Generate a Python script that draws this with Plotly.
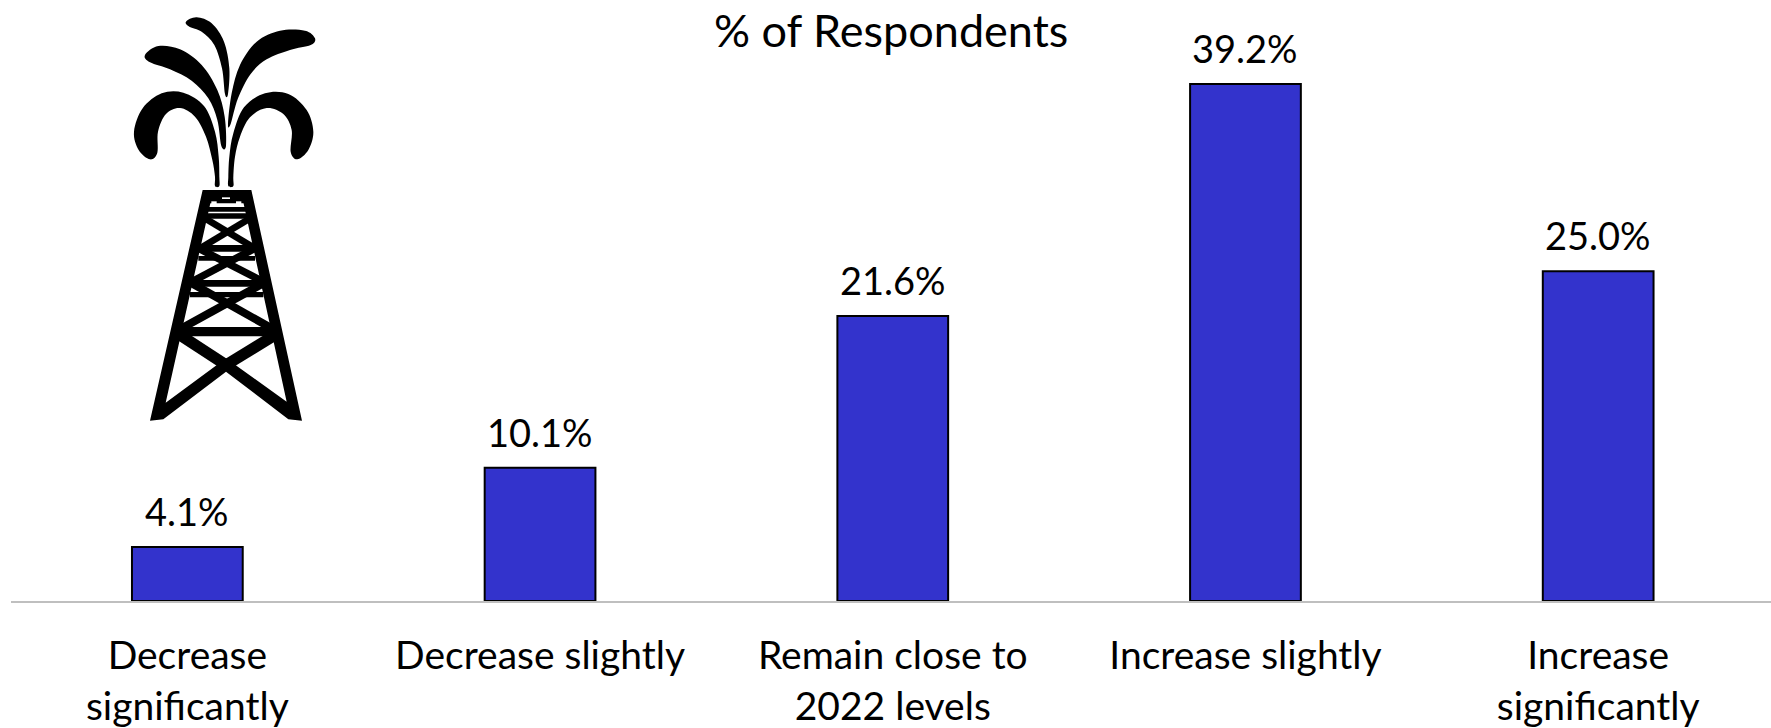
import base64
import plotly.graph_objects as go

categories = ["Decrease significantly", "Decrease slightly", "Remain close to 2022 levels",
              "Increase slightly", "Increase significantly"]
tick_labels = ["Decrease<br>significantly", "Decrease slightly", "Remain close to<br>2022 levels",
               "Increase slightly", "Increase<br>significantly"]
respondents = [4.1, 10.1, 21.6, 39.2, 25.0]

W, H = 1771, 728
BASE_Y = 601
TEXT_FONT = "Lato, Carlito, sans-serif"


def blob(points):
    """Closed Catmull-Rom outline through the given points, as an SVG path."""
    n = len(points)
    d = f"M{points[0][0]},{points[0][1]}"
    for i in range(n):
        p0, p1, p2, p3 = points[i - 1], points[i], points[(i + 1) % n], points[(i + 2) % n]
        c1 = (p1[0] + (p2[0] - p0[0]) / 6, p1[1] + (p2[1] - p0[1]) / 6)
        c2 = (p2[0] - (p3[0] - p1[0]) / 6, p2[1] - (p3[1] - p1[1]) / 6)
        d += f"C{c1[0]:.1f},{c1[1]:.1f} {c2[0]:.1f},{c2[1]:.1f} {p2[0]},{p2[1]}"
    return d + "Z"


# Gusher outlines
plumes = [
    [(358, 558), (358, 530), (356, 470), (345, 395), (312, 318), (250, 278), (185, 280), (128, 325), (102, 395),
     (116, 450), (150, 478), (172, 458), (174, 395), (198, 342), (240, 324), (285, 350), (318, 410),
     (337, 480), (345, 530), (345, 558)],
    [(385, 558), (385, 530), (388, 470), (400, 400), (432, 322), (495, 280), (565, 282), (620, 330), (640, 395),
     (625, 450), (592, 478), (572, 455), (575, 390), (550, 342), (500, 324), (450, 352), (420, 410),
     (405, 470), (400, 530), (400, 558)],
    [(135, 165), (175, 138), (240, 148), (305, 195), (352, 270), (374, 350), (378, 438), (364, 438),
     (352, 360), (325, 295), (275, 242), (210, 208), (150, 187)],
    [(645, 115), (615, 92), (540, 92), (470, 125), (420, 195), (395, 280), (384, 372), (392, 372),
     (414, 295), (452, 222), (500, 178), (570, 150), (632, 135)],
    [(258, 65), (290, 52), (335, 70), (372, 125), (388, 205), (384, 282), (375, 282), (366, 205),
     (343, 135), (305, 95), (268, 80)],
]

# Derrick legs, pointed at the feet
legs = [
    "M308,570 L340,570 L197,1208 L378,1075 L378,1115 L190,1258 L150,1262 Z",
    "M454,570 L422,570 L560,1205 L378,1075 L378,1115 L565,1258 L606,1262 Z",
]

# Derrick cross members: (x0, y0, x1, y1, stroke width)
members = [
    (378, 1095, 525, 1005, 34), (378, 1095, 240, 1005, 34),
    (235, 995, 530, 995, 28),
    (245, 985, 490, 850, 24), (515, 985, 275, 850, 24),
    (270, 850, 490, 850, 20), (270, 884, 490, 884, 16),
    (275, 845, 465, 745, 22), (490, 845, 295, 745, 22),
    (295, 745, 465, 745, 20), (295, 775, 465, 775, 14),
    (300, 745, 450, 655, 20), (465, 745, 315, 655, 20),
    (315, 648, 445, 648, 16), (320, 628, 440, 628, 14),
]

svg = ['<svg xmlns="http://www.w3.org/2000/svg" width="780" height="1320" viewBox="0 0 780 1320">']
svg += [f'<path d="{blob(p)}" fill="#000"/>' for p in plumes]
svg += [f'<path d="{d}" fill="#000"/>' for d in legs]
svg.append('<path d="M310,570 L452,570 L460,610 L302,610 Z" fill="#000"/>')
svg += [f'<line x1="{a}" y1="{b}" x2="{c}" y2="{d}" stroke="#000" stroke-width="{w}"/>'
        for a, b, c, d, w in members]
svg.append('<rect x="334" y="604" width="16" height="14" fill="#fff"/>')
svg.append('<rect x="408" y="604" width="16" height="14" fill="#fff"/>')
svg.append('<rect x="366" y="592" width="24" height="5" fill="#fff"/>')
svg.append('</svg>')
derrick = "data:image/svg+xml;base64," + base64.b64encode("".join(svg).encode()).decode()

fig = go.Figure(go.Bar(
    x=categories,
    y=respondents,
    width=0.314,
    marker=dict(color="#3333CC", line=dict(color="#000000", width=2)),
))

# Percentage labels sit well clear of the bar tops
for cat, val in zip(categories, respondents):
    fig.add_annotation(
        x=cat, y=val, text=f"{val:.1f}%", showarrow=False, yanchor="middle", yshift=36,
        font=dict(family=TEXT_FONT, size=38, color="#000000"),
    )

fig.add_annotation(
    text="% of Respondents", xref="paper", yref="paper", x=0.5, y=1, yanchor="middle",
    yshift=-30, showarrow=False,
    font=dict(family=TEXT_FONT, size=45, color="#000000"),
)

fig.update_layout(
    width=W, height=H,
    margin=dict(l=11, r=0, t=0, b=H - BASE_Y, pad=0),
    paper_bgcolor="#FFFFFF", plot_bgcolor="#FFFFFF",
    showlegend=False,
    images=[dict(source=derrick, xref="paper", yref="paper",
                 x=(100 - 11) / (W - 11), y=1, sizex=260 / (W - 11), sizey=440 / BASE_Y,
                 xanchor="left", yanchor="top", sizing="stretch", layer="above")],
    xaxis=dict(
        type="category", tickmode="array", tickvals=categories, range=[-0.5, 4.49],
        ticktext=[f'<span style="font-size:39px">{t}</span>' for t in tick_labels],
        tickfont=dict(family=TEXT_FONT, size=39, color="#000000"),
        ticks="", showgrid=False, zeroline=False, showline=True,
        linecolor="#BFBFBF", linewidth=2, ticklabelstandoff=19, tickangle=0, automargin=False,
    ),
    yaxis=dict(range=[0, BASE_Y / 13.19], visible=False, showgrid=False, zeroline=False),
)

fig.write_html("out.html", config=dict(displayModeBar=False))
